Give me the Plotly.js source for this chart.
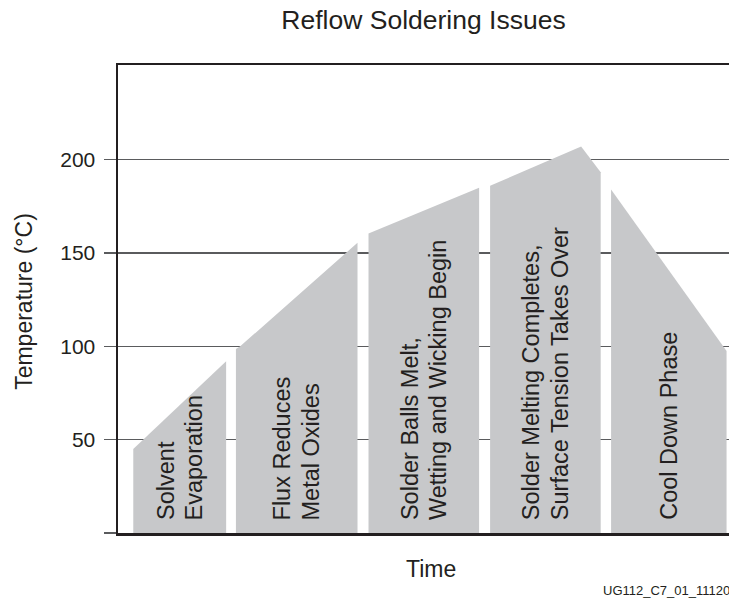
<!DOCTYPE html>
<html><head><meta charset="utf-8">
<script src="https://cdn.plot.ly/plotly-3.0.1.min.js"></script>
<style>html,body{margin:0;padding:0;background:#fff;overflow:hidden}#chart{width:729px;height:607px}</style>
</head><body><div id="chart"></div>
<script>
// ---- data ----
const phaseLabels = [
  ["Solvent", "Evaporation"],
  ["Flux Reduces", "Metal Oxides"],
  ["Solder Balls Melt,", "Wetting and Wicking Begin"],
  ["Solder Melting Completes,", "Surface Tension Takes Over"],
  ["Cool Down Phase"]
];
const solventTime  = [2.5, 2.5, 17.7, 17.7];
const solventTemp  = [0, 45, 92, 0];
const fluxTime     = [19.3, 19.3, 20.0, 39.2, 39.2];
const fluxTemp     = [0, 98.5, 100, 155.5, 0];
const meltTime     = [41.0, 41.0, 59.1, 59.1];
const meltTemp     = [0, 160.5, 185, 0];
const completeTime = [60.9, 60.9, 75.8, 79.0, 79.0];
const completeTemp = [0, 186, 207, 193.3, 0];
const coolTime     = [80.7, 80.7, 99.6, 99.6];
const coolTemp     = [0, 184, 97.5, 0];
const tempTicks      = [0, 50, 100, 150, 200];
const tempTickLabels = ["", "50", "100", "150", "200"];
const chartTitle = "Reflow Soldering Issues";
const xTitle = "Time";
const yTitle = "Temperature (°C)";
const footnote = "UG112_C7_01_11120";

// ---- styles ----
const FONT = "Liberation Sans, Arial, Helvetica, sans-serif";
const INK = "#231f20";
const GRID = "#5a5b5d";
const FILL = "#c7c8ca";

const phases = [
  [solventTime, solventTemp],
  [fluxTime, fluxTemp],
  [meltTime, meltTemp],
  [completeTime, completeTemp],
  [coolTime, coolTemp]
];

const traces = phases.map(([t, v], i) => ({
  type: "scatter", mode: "lines", x: t, y: v, fill: "toself",
  fillcolor: FILL, line: {width: 0, color: FILL}, hoverinfo: "skip",
  showlegend: false, name: phaseLabels[i].join(" ")
}));

const annotations = [];
const lineGap = 28.5;
phases.forEach(([t], i) => {
  const c = (Math.min(...t) + Math.max(...t)) / 2;
  const lines = phaseLabels[i];
  lines.forEach((txt, j) => {
    annotations.push({
      x: c, y: 0, xref: "x", yref: "y", text: txt, showarrow: false,
      textangle: -90, xanchor: "center", yanchor: "bottom",
      xshift: (j - (lines.length - 1) / 2) * lineGap, yshift: 11,
      font: {family: FONT, size: 23.5, color: INK}
    });
  });
});
annotations.push({
  x: -0.1538, y: 0.494, xref: "paper", yref: "paper", text: yTitle,
  showarrow: false, textangle: -90, xanchor: "center", yanchor: "middle",
  font: {family: FONT, size: 23, color: INK}
});
annotations.push({
  x: 0.5115, y: -0.0777, xref: "paper", yref: "paper", text: xTitle,
  showarrow: false, xanchor: "center", yanchor: "middle",
  font: {family: FONT, size: 23, color: INK}
});
annotations.push({
  x: 0.7905, y: -0.1225, xref: "paper", yref: "paper", text: footnote,
  showarrow: false, xanchor: "left", yanchor: "middle",
  font: {family: FONT, size: 13, color: INK}
});

const layout = {
  width: 729, height: 607,
  margin: {l: 118, r: 0, t: 65, b: 74, pad: 0},
  paper_bgcolor: "#fff", plot_bgcolor: "#fff",
  title: {text: chartTitle, x: 0.5, xref: "paper", xanchor: "center",
          y: 1 - 10 / 607, yref: "container", yanchor: "top",
          font: {family: FONT, size: 26.5, color: INK}},
  showlegend: false,
  xaxis: {range: [0, 100], showline: true, mirror: true, linecolor: INK,
          linewidth: 2.5, showgrid: false, zeroline: false,
          showticklabels: false, ticks: "", fixedrange: true},
  yaxis: {range: [0, 250.7], tickvals: tempTicks, ticktext: tempTickLabels,
          ticks: "outside", ticklen: 12, tickwidth: 1.5, tickcolor: GRID,
          ticklabelstandoff: 4,
          showgrid: true, gridcolor: GRID, gridwidth: 1.5,
          showline: true, linecolor: INK, linewidth: 2.5, zeroline: false,
          tickfont: {family: FONT, size: 21, color: INK}, fixedrange: true},
  annotations: annotations
};

Plotly.newPlot("chart", traces, layout, {displayModeBar: false, staticPlot: true});
</script>
</body></html>
